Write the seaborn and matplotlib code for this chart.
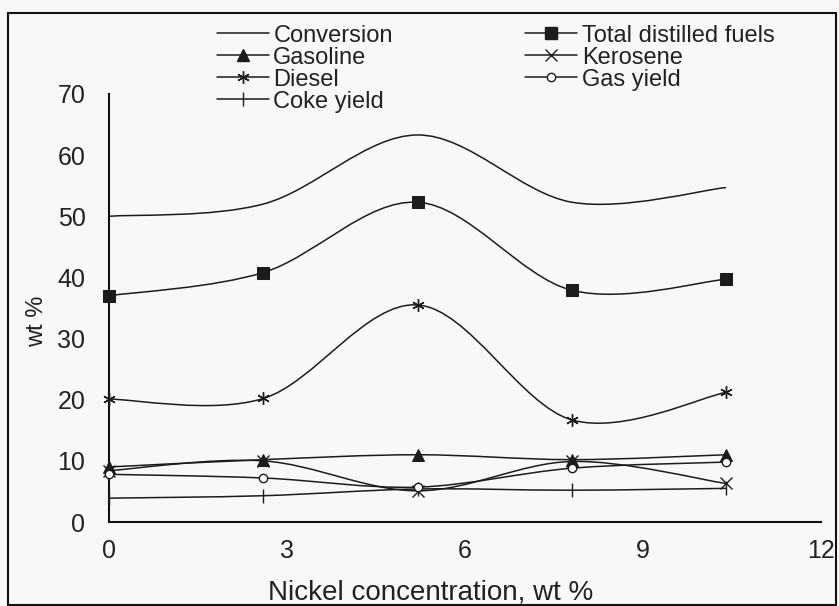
import numpy as np
import pandas as pd
import seaborn as sns
import matplotlib
matplotlib.use("Agg")
import matplotlib.pyplot as plt
from matplotlib.path import Path
from matplotlib.patches import PathPatch, Rectangle
from matplotlib.lines import Line2D

# ---- data ----
nickel = [0, 2.6, 5.2, 7.8, 10.4]
conversion = [50.0, 52.0, 63.3, 52.3, 54.7]
total_distilled = [37.0, 40.8, 52.3, 37.9, 39.7]
gasoline = [9.0, 10.2, 11.0, 10.2, 11.0]
kerosene = [8.4, 10.0, 5.1, 9.9, 6.3]
diesel = [20.1, 20.2, 35.5, 16.7, 21.2]
gas_yield = [7.8, 7.2, 5.7, 8.8, 9.8]
coke_yield = [3.9, 4.3, 5.4, 5.2, 5.5]

series_names = ["Conversion", "Gasoline", "Diesel", "Coke yield",
                "Total distilled fuels", "Kerosene", "Gas yield"]
series_vals = [conversion, gasoline, diesel, coke_yield,
               total_distilled, kerosene, gas_yield]

x_ticks = [0, 3, 6, 9, 12]
y_ticks = [0, 10, 20, 30, 40, 50, 60, 70]

sns.set_theme(style="white")
plt.rcParams["font.family"] = ["Liberation Sans", "DejaVu Sans"]

BG = "#f6f8fa"
INK = "#1c1c1c"
fig = plt.figure(figsize=(8.39, 6.06), dpi=100, facecolor=BG)
ax = fig.add_axes([0.130, 0.1386, 0.8485, 0.7063])
ax.set_facecolor(BG)

markers = {
    "Conversion": dict(marker="None"),
    "Total distilled fuels": dict(marker="s", markersize=8, markerfacecolor=INK, markeredgecolor=INK),
    "Gasoline": dict(marker="^", markersize=8, markerfacecolor=INK, markeredgecolor=INK),
    "Kerosene": dict(marker="x", markersize=8, markeredgewidth=1.0, markeredgecolor=INK),
    "Diesel": dict(marker=(6, 2, 0), markersize=9, markeredgewidth=1.0, markeredgecolor=INK),
    "Gas yield": dict(marker="o", markersize=6, markerfacecolor="white", markeredgecolor=INK, markeredgewidth=1.0),
    "Coke yield": dict(marker="|", markersize=10, markeredgewidth=1.0, markeredgecolor=INK),
}

def smooth_path(xs, ys):
    n = len(xs)
    verts = [(xs[0], ys[0])]
    codes = [Path.MOVETO]
    for i in range(n - 1):
        p0 = (xs[max(i - 1, 0)], ys[max(i - 1, 0)])
        p1 = (xs[i], ys[i])
        p2 = (xs[i + 1], ys[i + 1])
        p3 = (xs[min(i + 2, n - 1)], ys[min(i + 2, n - 1)])
        c1 = (p1[0] + (p2[0] - p0[0]) / 6, p1[1] + (p2[1] - p0[1]) / 6)
        c2 = (p2[0] - (p3[0] - p1[0]) / 6, p2[1] - (p3[1] - p1[1]) / 6)
        verts += [c1, c2, p2]
        codes += [Path.CURVE4] * 3
    return Path(verts, codes)

for name, vals in zip(series_names, series_vals):
    ax.add_patch(PathPatch(smooth_path(nickel, vals), facecolor="none",
                           edgecolor=INK, lw=1.1, transform=ax.transData,
                           clip_on=False, zorder=2))
    if name != "Conversion":
        df = pd.DataFrame({"x": nickel, "y": vals})
        sns.lineplot(data=df, x="x", y="y", ax=ax, linestyle="none",
                     color=INK, zorder=3, clip_on=False, **markers[name])

ax.set_xlim(0, 12)
ax.set_ylim(0, 70)
ax.set_xticks(x_ticks)
ax.set_yticks(y_ticks)
ax.set_xticklabels([str(v) for v in x_ticks])
ax.set_yticklabels([str(v) for v in y_ticks])
for s in ["top", "right"]:
    ax.spines[s].set_visible(False)
for s in ["left", "bottom"]:
    ax.spines[s].set_color("#111111")
    ax.spines[s].set_linewidth(1.5)
ax.tick_params(axis="both", direction="out", length=9, width=1.2, color="#111111",
               labelsize=18, labelcolor="#222222")
ax.tick_params(axis="y", pad=8)
ax.tick_params(axis="x", pad=3)
ax.set_xlabel("Nickel concentration, wt %", fontsize=20, color="#222222")
ax.xaxis.set_label_coords(0.451, -0.135)
ax.set_ylabel("wt %", fontsize=17, color="#222222")
ax.yaxis.set_label_coords(-0.086, 0.47)

handles = []
for name in series_names:
    kw = dict(markers[name])
    handles.append(Line2D([], [], color=INK, lw=1.1, **kw))
fig.legend(handles, series_names, loc="upper left", bbox_to_anchor=(0.247, 0.975),
           ncol=2, frameon=False, fontsize=17, handlelength=2.2, handletextpad=0.2,
           columnspacing=5.6, labelspacing=0.0, borderaxespad=0, labelcolor="#222222")

fig.patches.append(Rectangle((8 / 839, 1 / 606), 828 / 839, 592 / 606,
                             transform=fig.transFigure, fill=False,
                             edgecolor="#111111", lw=1.5))

fig.savefig("out.png", dpi=100, facecolor=BG)
